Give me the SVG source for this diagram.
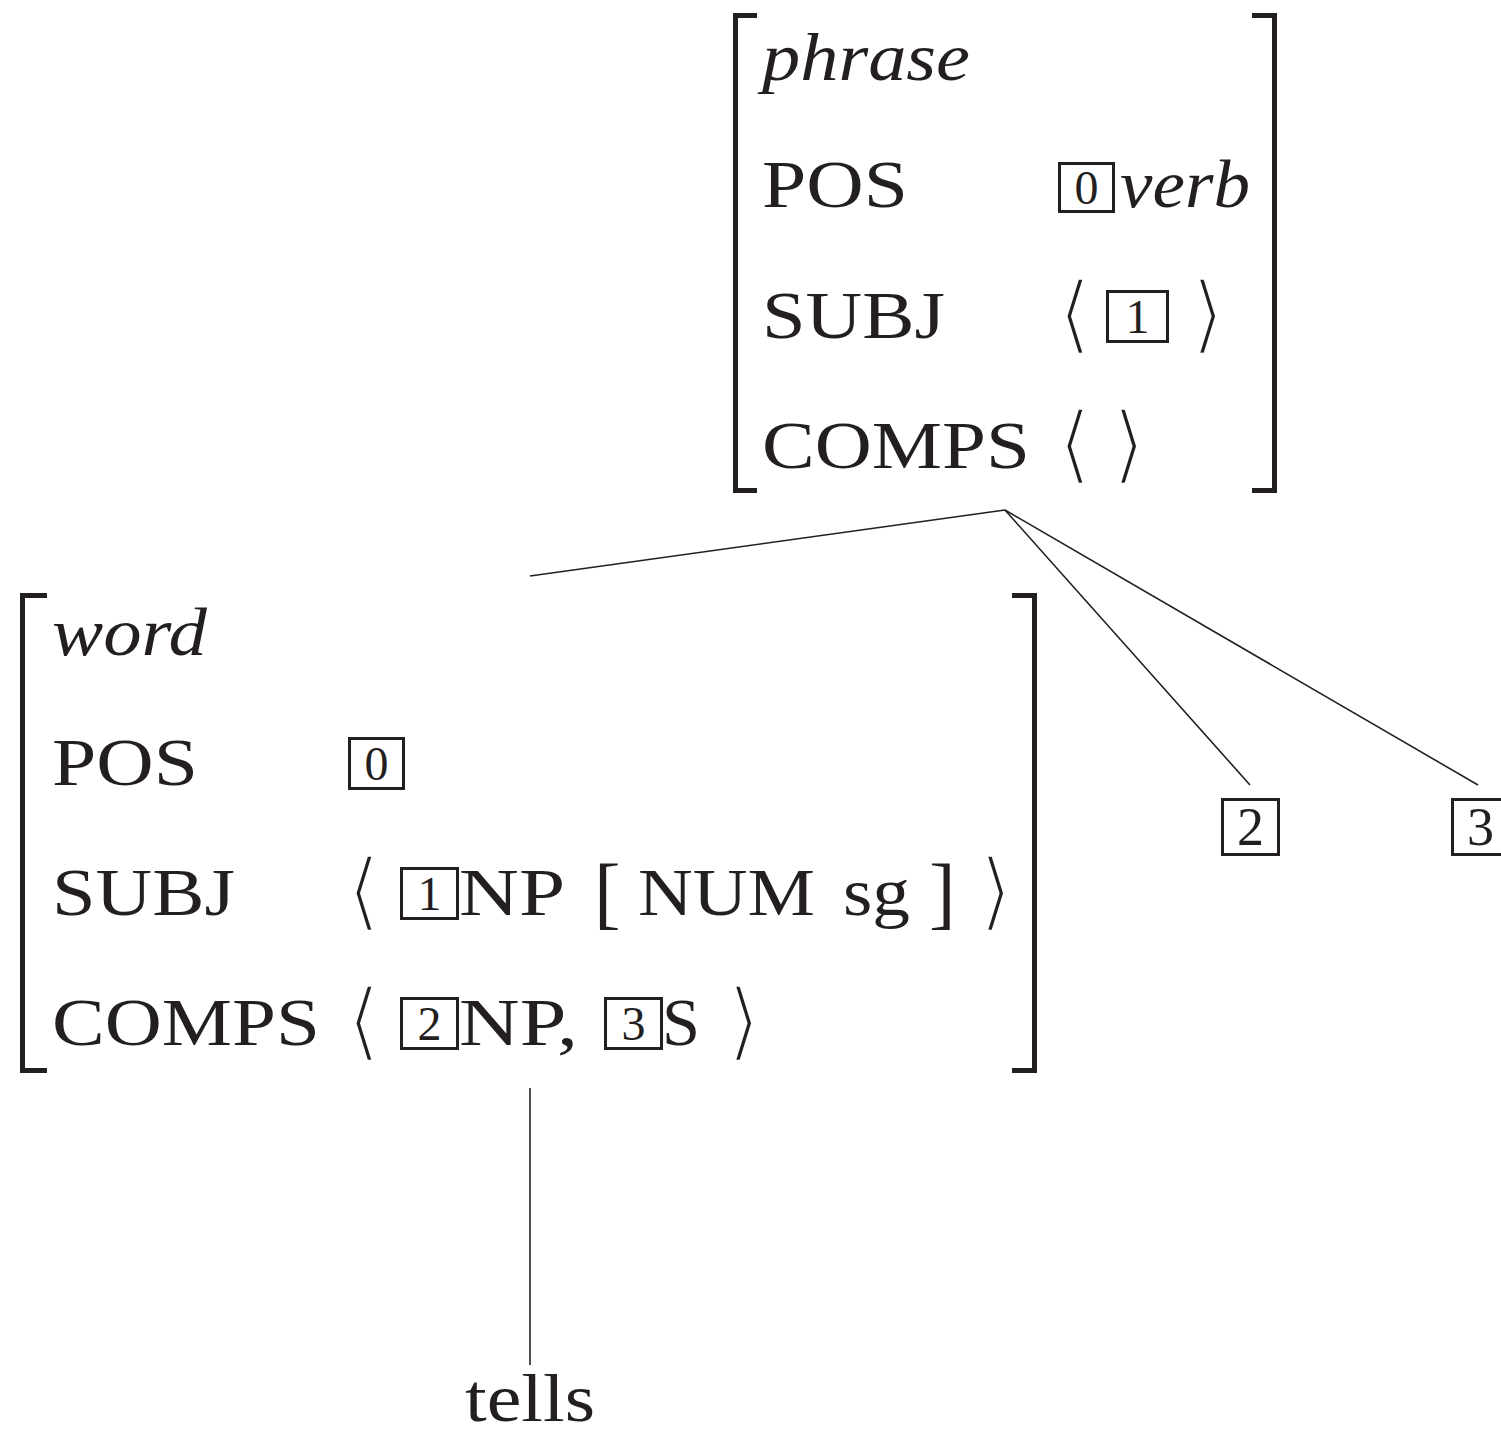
<svg xmlns="http://www.w3.org/2000/svg" width="1501" height="1433" viewBox="0 0 1501 1433">
<style>
.t{font-family:"Liberation Serif","DejaVu Serif",serif;font-size:68px;fill:#231f20}
.i{font-style:italic}
.sb{font-size:80px}
.d{font-family:"Liberation Serif",serif;font-size:48px;fill:#231f20;text-anchor:middle}
.D{font-size:54px}
.a{font-family:"DejaVu Sans",sans-serif;font-size:86px;fill:#231f20;stroke:#fff;stroke-width:3.5px}
.br{fill:none;stroke:#231f20;stroke-width:5}
.bx{fill:none;stroke:#231f20;stroke-width:3}
.ln{fill:none;stroke:#231f20;stroke-width:1.6}
</style>
<rect width="1501" height="1433" fill="#fff"/>
<g id="connectors">
<line class="ln" x1="1005" y1="510" x2="530" y2="576"/>
<line class="ln" x1="1005" y1="510" x2="1250" y2="785"/>
<line class="ln" x1="1005" y1="510" x2="1478" y2="785"/>
<line class="ln" x1="530" y1="1088" x2="530" y2="1365"/>
</g>
<g id="phrase">
<path class="br" d="M757,15.5H735.5V490.5H757"/>
<path class="br" d="M1252,15.5H1274.5V490.5H1252"/>
<text class="t i" x="762" y="80" textLength="208" lengthAdjust="spacingAndGlyphs">phrase</text>
<text class="t" x="762" y="207" textLength="146" lengthAdjust="spacingAndGlyphs">POS</text>
<rect class="bx" x="1059.5" y="163.5" width="54" height="48"/>
<text class="d" x="1086.5" y="204">0</text>
<text class="t i" x="1120" y="207" textLength="130" lengthAdjust="spacingAndGlyphs">verb</text>
<text class="t" x="762" y="338" textLength="183" lengthAdjust="spacingAndGlyphs">SUBJ</text>
<text class="a" x="1058" y="343">⟨</text>
<rect class="bx" x="1107.5" y="291.5" width="60" height="50"/>
<text class="d" x="1137.5" y="333">1</text>
<text class="a" x="1191" y="343">⟩</text>
<text class="t" x="762" y="468" textLength="268" lengthAdjust="spacingAndGlyphs">COMPS</text>
<text class="a" x="1058" y="473">⟨</text>
<text class="a" x="1112" y="473">⟩</text>
</g>
<g id="word">
<path class="br" d="M47,595.5H22.5V1070.5H47"/>
<path class="br" d="M1012,595.5H1034.5V1070.5H1012"/>
<text class="t i" x="52" y="655" textLength="155" lengthAdjust="spacingAndGlyphs">word</text>
<text class="t" x="52" y="785" textLength="146" lengthAdjust="spacingAndGlyphs">POS</text>
<rect class="bx" x="349.5" y="738.5" width="54" height="50"/>
<text class="d" x="376.5" y="780">0</text>
<text class="t" x="52" y="915" textLength="183" lengthAdjust="spacingAndGlyphs">SUBJ</text>
<text class="a" x="347" y="920">⟨</text>
<rect class="bx" x="401.5" y="868.5" width="56" height="50"/>
<text class="d" x="429.5" y="910">1</text>
<text class="t" x="459" y="915" textLength="106" lengthAdjust="spacingAndGlyphs">NP</text>
<text class="t sb" x="594" y="919">[</text>
<text class="t" x="638" y="915" textLength="177" lengthAdjust="spacingAndGlyphs">NUM</text>
<text class="t" x="843" y="915" textLength="67" lengthAdjust="spacingAndGlyphs">sg</text>
<text class="t sb" x="929" y="919">]</text>
<text class="a" x="979" y="920">⟩</text>
<text class="t" x="52" y="1045" textLength="268" lengthAdjust="spacingAndGlyphs">COMPS</text>
<text class="a" x="347" y="1050">⟨</text>
<rect class="bx" x="401.5" y="998.5" width="56" height="50"/>
<text class="d" x="429.5" y="1040">2</text>
<text class="t" x="459" y="1045" textLength="119" lengthAdjust="spacingAndGlyphs">NP,</text>
<rect class="bx" x="605.5" y="998.5" width="56" height="50"/>
<text class="d" x="633.5" y="1040">3</text>
<text class="t" x="662" y="1045" textLength="38" lengthAdjust="spacingAndGlyphs">S</text>
<text class="a" x="727" y="1050">⟩</text>
</g>
<g id="box2">
<rect class="bx" x="1222.5" y="799.5" width="56" height="55"/>
<text class="d D" x="1250.5" y="845">2</text>
</g>
<g id="box3">
<rect class="bx" x="1452.5" y="799.5" width="56" height="55"/>
<text class="d D" x="1480.5" y="845">3</text>
</g>
<g id="tells">
<text class="t" x="465" y="1421" textLength="130" lengthAdjust="spacingAndGlyphs">tells</text>
</g>
</svg>
